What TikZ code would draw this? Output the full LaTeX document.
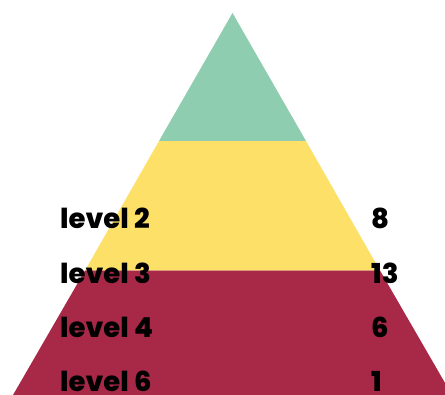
\documentclass[tikz,border=0pt]{standalone}
\usepackage{fontspec}
\setmainfont{Poppins}[BoldFont={* ExtraBold}]
\usetikzlibrary{positioning}

\definecolor{topgreen}{RGB}{142,205,176}
\definecolor{midyellow}{RGB}{253,224,104}
\definecolor{lowred}{RGB}{168,40,72}

\tikzset{
    levellabel/.style={anchor=base west, inner sep=0pt, font=\fontsize{27.5}{30}\selectfont\bfseries},
    countlabel/.style={anchor=base west, inner sep=0pt, font=\fontsize{27.5}{30}\selectfont\bfseries}
}

\begin{document}
\begin{tikzpicture}[x=1pt, y=1pt]
    \useasboundingbox (0,0) rectangle (445,395);
    \clip (0,0) rectangle (445,395);

    % the three bands of the pyramid
    \coordinate (apex) at (232.5,382);
    \fill[lowred] (5.5,-13) -- (459.5,-13) -- (380,124.5) -- (85,124.5) -- cycle;
    \fill[midyellow] (85,124.5) -- (380,124.5) -- (306,254) -- (159,254) -- cycle;
    \fill[topgreen] (159,254) -- (306,254) -- (apex) -- cycle;

    % labels on the left, counts on the right
    \node[levellabel] (lvltwo) at (60,166) {level 2};
    \node[levellabel] (lvlthree) at (60,111) {level 3};
    \node[levellabel] (lvlfour) at (60,57) {level 4};
    \node[levellabel] (lvlsix) at (60,3) {level 6};

    \node[countlabel] (cnttwo) at (371,166) {8};
    \node[countlabel] (cntthree) at (371,111) {13};
    \node[countlabel] (cntfour) at (371,57) {6};
    \node[countlabel] (cntsix) at (371,3) {1};
\end{tikzpicture}
\end{document}
